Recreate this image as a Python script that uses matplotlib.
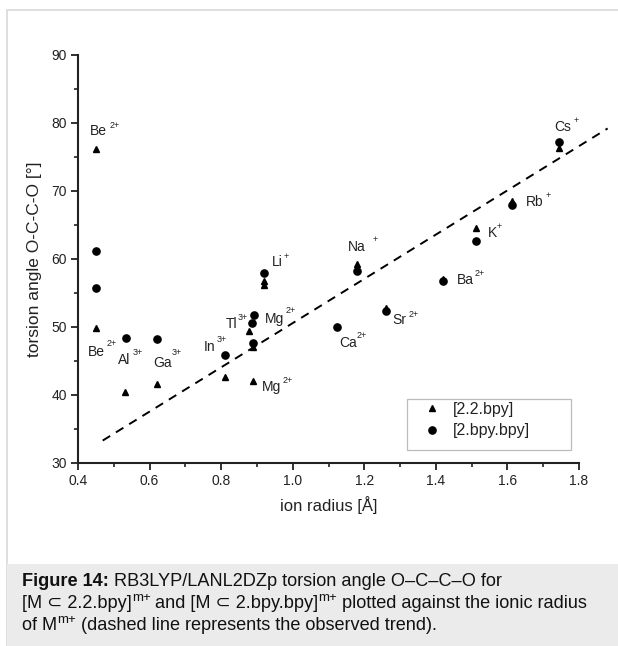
import matplotlib
matplotlib.use("Agg")
import matplotlib.pyplot as plt
from matplotlib.patches import Rectangle

plt.rcParams['font.family'] = ['Liberation Sans', 'DejaVu Sans']

# ---- data ----
tri_radius = [0.45, 0.45, 0.53, 0.62, 0.81, 0.879, 0.89, 0.89, 0.92, 0.92, 1.18, 1.26, 1.42, 1.512, 1.614, 1.745]
tri_angle = [76.2, 49.8, 40.4, 41.6, 42.6, 49.4, 42.1, 47.1, 56.7, 56.2, 59.2, 52.8, 57.0, 64.5, 68.6, 76.3]

circ_radius = [0.45, 0.45, 0.535, 0.62, 0.81, 0.885, 0.893, 0.89, 0.92, 1.124, 1.18, 1.26, 1.42, 1.512, 1.614, 1.745]
circ_angle = [61.2, 55.8, 48.4, 48.3, 45.9, 50.6, 51.8, 47.6, 58.0, 50.0, 58.2, 52.4, 56.7, 62.7, 68.0, 77.2]

trend_x = [0.469, 1.88]
trend_y = [33.3, 79.2]

# ion labels: (element, charge, x, y, sup_x, sup_y)
ion_labels = [
    ("Be", "2+", 0.4335, 78.8, 0.489, 79.7),
    ("Be", "2+", 0.428, 46.3, 0.481, 47.5),
    ("Al", "3+", 0.511, 45.1, 0.553, 46.2),
    ("Ga", "3+", 0.609, 44.7, 0.662, 46.2),
    ("In", "3+", 0.752, 47.0, 0.788, 48.1),
    ("Tl", "3+", 0.813, 50.4, 0.846, 51.4),
    ("Mg", "2+", 0.921, 51.2, 0.981, 52.4),
    ("Li", "+", 0.941, 59.5, 0.974, 60.3),
    ("Mg", "2+", 0.913, 41.2, 0.972, 42.1),
    ("Na", "+", 1.153, 61.8, 1.222, 62.8),
    ("Ca", "2+", 1.130, 47.7, 1.179, 48.7),
    ("Sr", "2+", 1.279, 51.0, 1.323, 51.9),
    ("Cs", "+", 1.730, 79.4, 1.784, 80.3),
    ("Rb", "+", 1.652, 68.4, 1.708, 69.4),
    ("K", "+", 1.544, 63.8, 1.570, 64.75),
    ("Ba", "2+", 1.458, 56.9, 1.509, 57.9),
]

x_ticks = [0.4, 0.6, 0.8, 1.0, 1.2, 1.4, 1.6, 1.8]
y_ticks = [30, 40, 50, 60, 70, 80, 90]
series_names = ["[2.2.bpy]", "[2.bpy.bpy]"]

W, H = 618, 646
fig = plt.figure(figsize=(W / 100, H / 100), dpi=100)

# outer frame and caption background
fig.patches.append(Rectangle((7 / W, 0), (W - 6) / W, 1 - 10 / H, transform=fig.transFigure,
                             facecolor='none', edgecolor='#d9d9d9', lw=1.2))
fig.patches.append(Rectangle((7 / W, 0), (W - 6) / W, (H - 564) / H, transform=fig.transFigure,
                             facecolor='#ebebeb', edgecolor='none'))

ax = fig.add_axes([78 / W, 1 - 463 / H, (579 - 78) / W, (463 - 55) / H])
ax.set_xlim(0.4, 1.8)
ax.set_ylim(30, 90)

ax.plot(trend_x, trend_y, color='black', lw=1.4, ls=(0, (4.5, 3.5)), clip_on=False)
ax.plot(tri_radius, tri_angle, ls='none', marker='^', ms=4.2, color='black', label=series_names[0])
ax.plot(circ_radius, circ_angle, ls='none', marker='o', ms=5.2, color='black', label=series_names[1])

for el, ch, x, y, sx, sy in ion_labels:
    ax.text(x, y, el, fontsize=10, ha='left', va='center', color='#222222')
    ax.text(sx, sy, ch, fontsize=6.5, ha='left', va='center', color='#222222')

for s in ['top', 'right']:
    ax.spines[s].set_visible(False)
for s in ['left', 'bottom']:
    ax.spines[s].set_linewidth(1.5)
    ax.spines[s].set_color('#222222')

ax.set_xticks(x_ticks)
ax.set_xticklabels([f"{v:.1f}" for v in x_ticks])
ax.set_yticks(y_ticks)
ax.set_yticklabels([str(v) for v in y_ticks])
ax.set_xticks([0.5, 0.7, 0.9, 1.1, 1.3, 1.5, 1.7], minor=True)
ax.set_yticks([35, 45, 55, 65, 75, 85], minor=True)
ax.tick_params(which='major', direction='out', length=5, width=1.3, labelsize=10, colors='#222222', pad=3)
ax.tick_params(which='minor', direction='out', length=3, width=1.2, colors='#222222')

ax.set_xlabel("ion radius [Å]", fontsize=12, color='#222222', labelpad=6)
ax.set_ylabel("torsion angle O-C-C-O [°]", fontsize=12.5, color='#222222', labelpad=7)

# legend (frame drawn separately)
lx0, ly0 = (424 - 78) / 501, (463 - 402) / 408
leg = ax.legend(loc='upper left', bbox_to_anchor=(lx0, ly0), frameon=False, fontsize=11.5,
                handlelength=1.0, handletextpad=0.8, borderpad=0, borderaxespad=0,
                labelspacing=0.4)
for t in leg.get_texts():
    t.set_color('#222222')
ax.add_patch(Rectangle(((407 - 78) / 501, (463 - 450) / 408), (571 - 407) / 501, (450 - 399) / 408,
                       transform=ax.transAxes, facecolor='white', edgecolor='#bbbbbb', lw=0.9, zorder=1))

# caption, built piece by piece
fig.canvas.draw()
renderer = fig.canvas.get_renderer()
fs = 13.1
caption_lines = [
    [("Figure 14:", 'b'), (" RB3LYP/LANL2DZp torsion angle O–C–C–O for", 'r')],
    [("[M ⊂ 2.2.bpy]", 'r'), ("m+", 's'), (" and [M ⊂ 2.bpy.bpy]", 'r'), ("m+", 's'),
     (" plotted against the ionic radius", 'r')],
    [("of M", 'r'), ("m+", 's'), (" (dashed line represents the observed trend).", 'r')],
]
line_y = [582, 604, 626]
for pieces, yp in zip(caption_lines, line_y):
    xp = 22
    for txt, kind in pieces:
        if kind == 's':
            t = fig.text(xp / W, 1 - (yp - 6) / H, txt, fontsize=fs * 0.72, va='center', ha='left',
                         color='#111111')
        else:
            t = fig.text(xp / W, 1 - yp / H, txt, fontsize=fs, va='center', ha='left',
                         color='#111111', weight='bold' if kind == 'b' else 'normal')
        bb = t.get_window_extent(renderer)
        xp = bb.x1

fig.savefig("out.png", dpi=100)
